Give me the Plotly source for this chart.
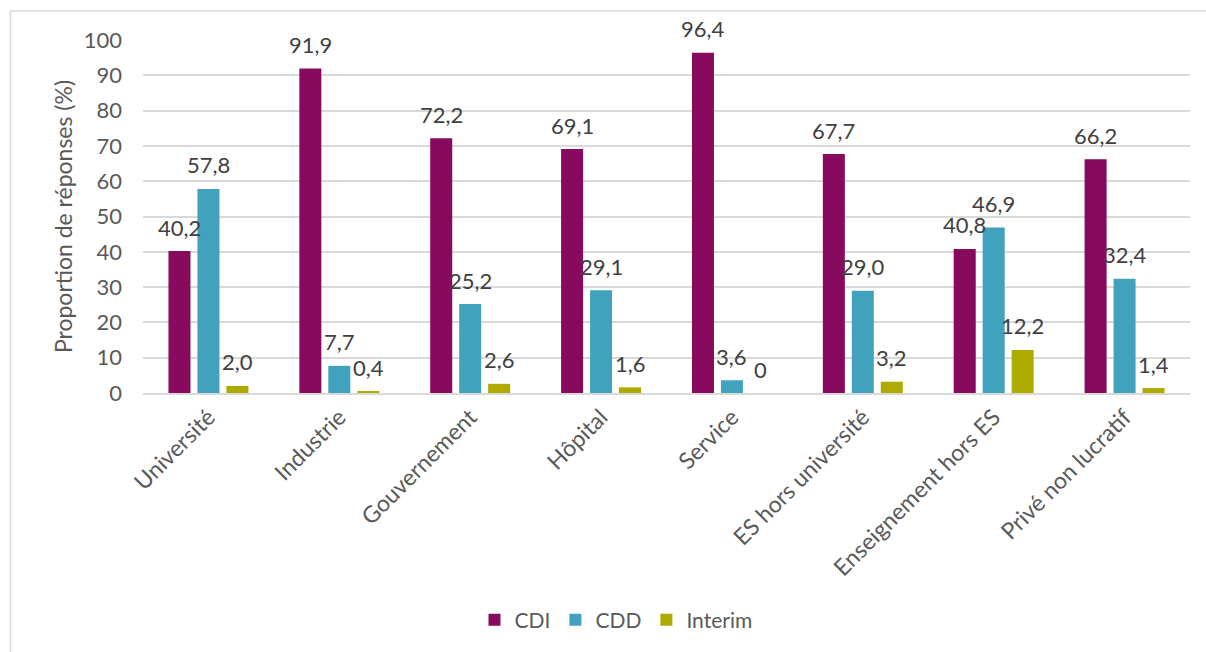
import plotly.graph_objects as go

categories = ["Université", "Industrie", "Gouvernement", "Hôpital", "Service",
              "ES hors université", "Enseignement hors ES", "Privé non lucratif"]
cdi = [40.2, 91.9, 72.2, 69.1, 96.4, 67.7, 40.8, 66.2]
cdd = [57.8, 7.7, 25.2, 29.1, 3.6, 29.0, 46.9, 32.4]
interim = [2.0, 0.4, 2.6, 1.6, 0, 3.2, 12.2, 1.4]
series_names = ["CDI", "CDD", "Interim"]
colors = ["#870A5E", "#40A2BC", "#AEAA00"]
y_ticks = [0, 10, 20, 30, 40, 50, 60, 70, 80, 90, 100]

W, H = 1206, 652
L, R, T, B = 143, 16, 40, 259
PW, PH = W - L - R, H - T - B

FONT = "Lato"
TXT = "#595959"

def fmt(v):
    if v == 0:
        return "0"
    return f"{v:.1f}".replace(".", ",")

fig = go.Figure()
all_series = [cdi, cdd, interim]
for name, vals, col in zip(series_names, all_series, colors):
    fig.add_trace(go.Bar(name=name, x=categories, y=vals, marker_color=col,
                         marker_line_width=0))

group_w = PW / len(categories)
bargap = 0.336
slot = group_w * (1 - bargap) / 3
annotations = []
for i, vals in enumerate(all_series):
    off = (i - 1) * slot
    for c, v in zip(categories, vals):
        annotations.append(dict(x=c, y=v, xref="x", yref="y", text=fmt(v),
                                showarrow=False, xshift=off, yshift=24,
                                yanchor="middle",
                                font=dict(family=FONT, size=22, color="#404040")))

def px_x(p):
    return (p - L) / PW

def px_y(p):
    return (H - B - p) / PH

shapes = [
    dict(type="line", xref="paper", yref="paper", x0=px_x(10.5), x1=px_x(10.5),
         y0=px_y(11), y1=px_y(H + 2), line=dict(color="#D9D9D9", width=1.5)),
    dict(type="line", xref="paper", yref="paper", x0=px_x(10), x1=px_x(W + 2),
         y0=px_y(11), y1=px_y(11), line=dict(color="#D9D9D9", width=1.5)),
]

fig.update_layout(
    width=W, height=H,
    margin=dict(l=L, r=R, t=T, b=B, pad=0),
    paper_bgcolor="white", plot_bgcolor="white",
    barmode="group", bargap=bargap, bargroupgap=0.24,
    font=dict(family=FONT, size=22, color=TXT),
    showlegend=True,
    legend=dict(orientation="h", x=px_x(616), xanchor="center",
                y=px_y(620), yanchor="middle",
                font=dict(family=FONT, size=21, color=TXT),
                itemwidth=30, traceorder="normal"),
    annotations=annotations,
    shapes=shapes,
    xaxis=dict(tickangle=-45, showgrid=False, showline=True,
               linecolor="#D9D9D9", linewidth=1.5, ticks="",
               tickfont=dict(family=FONT, size=23, color=TXT)),
    yaxis=dict(range=[0, 100], tickvals=y_ticks, showgrid=True,
               gridcolor="#D9D9D9", gridwidth=1.5, zeroline=False,
               ticks="", ticklen=0, ticklabelstandoff=20,
               tickfont=dict(family=FONT, size=22, color=TXT),
               title=dict(text="Proportion de réponses (%)",
                          font=dict(family=FONT, size=23, color=TXT),
                          standoff=4)),
)

fig.write_html("out.html")
